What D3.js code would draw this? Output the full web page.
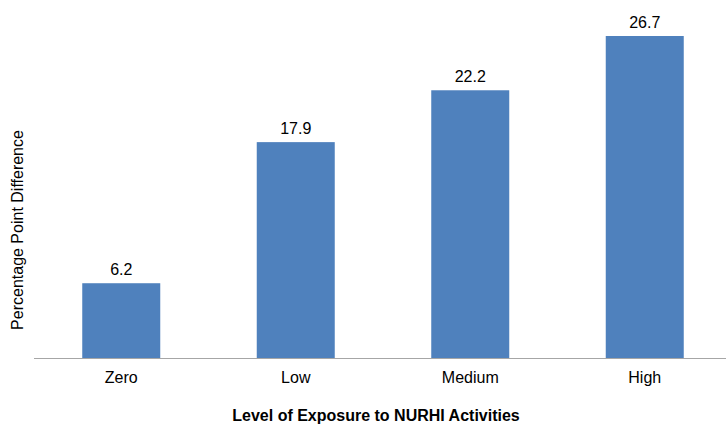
<!DOCTYPE html>
<html>
<head>
<meta charset="utf-8">
<script src="https://cdn.jsdelivr.net/npm/d3@7"></script>
<style>
  body { margin: 0; background: #fff; }
  svg { display: block; font-family: "Liberation Sans", Arial, sans-serif; }
</style>
</head>
<body>
<div id="chart"></div>
<script>
	var categories = ["Zero", "Low", "Medium", "High"];
	var values = [6.2, 17.9, 22.2, 26.7];

	var width = 726, height = 425;
	var baseY = 358;

	var svg = d3.select('#chart').append('svg')
		.attr('width', width)
		.attr('height', height);

	var x = d3.scaleBand()
		.domain(categories)
		.range([34, 732])
		.paddingInner(0.553)
		.paddingOuter(0.2765);

	var y = d3.scaleLinear()
		.domain([0, 26.7])
		.range([baseY, 36]);

	// bars
	svg.append('g').selectAll('rect')
		.data(values)
		.enter().append('rect')
		.attr('x', function(d, i){ return x(categories[i]); })
		.attr('y', function(d){ return y(d); })
		.attr('width', x.bandwidth())
		.attr('height', function(d){ return baseY - y(d); })
		.attr('fill', '#4F81BD');

	// baseline
	svg.append('line')
		.attr('x1', 34).attr('x2', 726)
		.attr('y1', baseY + 0.5).attr('y2', baseY + 0.5)
		.attr('stroke', '#A6A6A6')
		.attr('stroke-width', 1);

	// value labels
	svg.append('g').selectAll('text')
		.data(values)
		.enter().append('text')
		.attr('x', function(d, i){ return x(categories[i]) + x.bandwidth() / 2; })
		.attr('y', function(d){ return y(d) - 8; })
		.attr('text-anchor', 'middle')
		.attr('font-size', 16)
		.attr('fill', '#000')
		.text(function(d){ return d.toFixed(1); });

	// category labels
	var xAxis = d3.axisBottom(x).tickSize(0).tickPadding(14);
	var ax = svg.append('g')
		.attr('transform', 'translate(0,' + baseY + ')')
		.call(xAxis);
	ax.select('.domain').remove();
	ax.selectAll('text')
		.attr('font-size', 16)
		.attr('font-family', '"Liberation Sans", Arial, sans-serif')
		.attr('fill', '#000');

	// axis titles
	svg.append('text')
		.attr('x', 376)
		.attr('y', 421)
		.attr('text-anchor', 'middle')
		.attr('font-size', 16)
		.attr('font-weight', 'bold')
		.text('Level of Exposure to NURHI Activities');

	svg.append('text')
		.attr('transform', 'translate(23,230) rotate(-90)')
		.attr('text-anchor', 'middle')
		.attr('font-size', 16)
		.text('Percentage Point Difference');
</script>
</body>
</html>
